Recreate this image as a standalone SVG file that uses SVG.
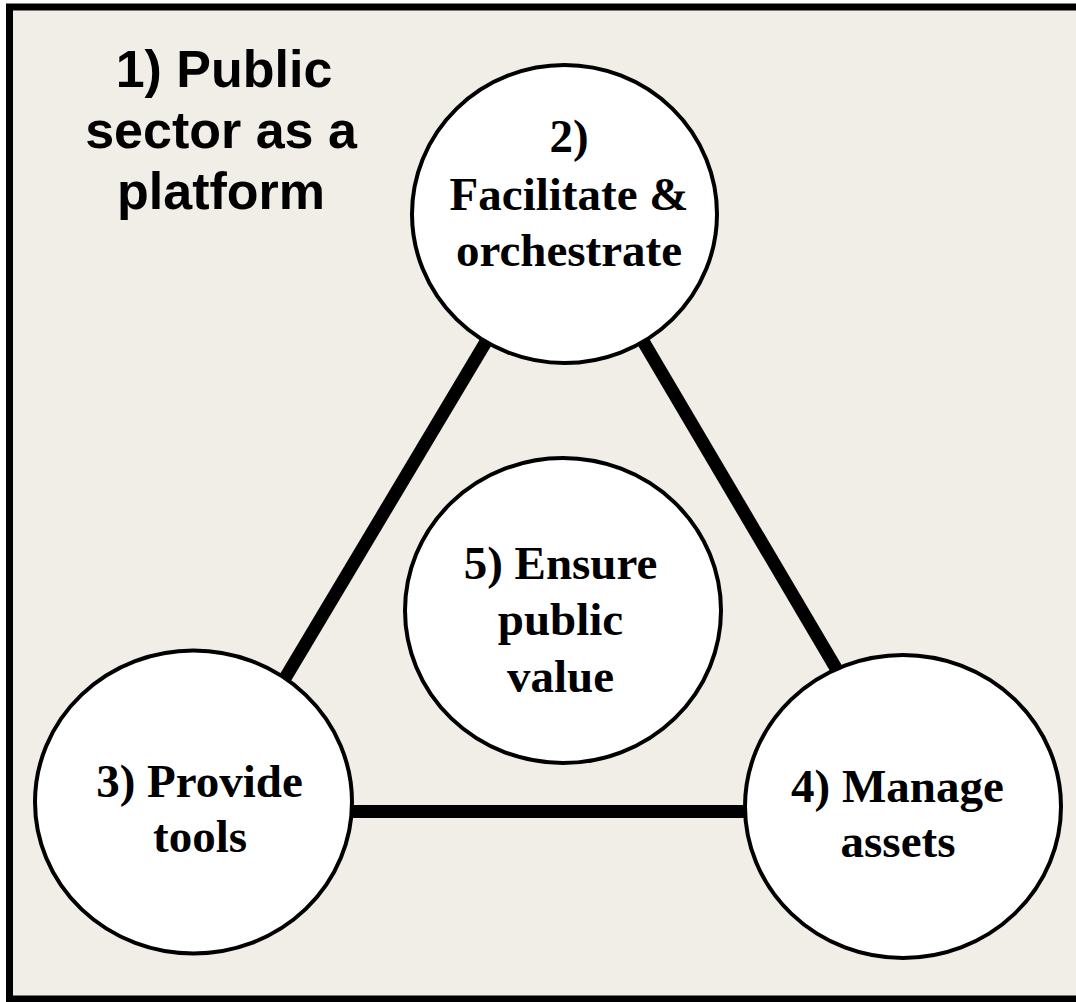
<svg xmlns="http://www.w3.org/2000/svg" width="1076" height="1002" viewBox="0 0 1076 1002">
<style>
.node { fill: #ffffff; stroke: #000000; stroke-width: 4; }
.serif { font-family: "Liberation Serif", "Times New Roman", serif; font-weight: bold; font-size: 47px; fill: #000000; text-anchor: middle; }
.sans { font-family: "Liberation Sans", Arial, sans-serif; font-weight: bold; font-size: 52px; fill: #000000; text-anchor: middle; }
.conn { stroke: #000000; stroke-width: 13; stroke-linecap: butt; fill: none; }
</style>
<rect x="0" y="0" width="1076" height="1002" fill="#ffffff"/>
<rect id="frame" x="9.5" y="7" width="1090" height="992" fill="#F1EEE7" stroke="#000000" stroke-width="7"/>
<g id="title">
  <text class="sans" x="224" y="86.5">1) Public</text>
  <text class="sans" x="221" y="148">sector as a</text>
  <text class="sans" x="221" y="209">platform</text>
</g>
<g id="connectors">
  <line class="conn" x1="488" y1="338.4" x2="283" y2="681.6"/>
  <line class="conn" x1="642" y1="339.4" x2="838" y2="671.6"/>
  <line class="conn" x1="345" y1="811.5" x2="752" y2="811.5"/>
</g>
<g id="node2">
  <ellipse class="node" cx="564.5" cy="214" rx="152.5" ry="149"/>
  <text class="serif" x="569" y="151.5">2)</text>
  <text class="serif" x="569" y="209.5">Facilitate &amp;</text>
  <text class="serif" x="569" y="266">orchestrate</text>
</g>
<g id="node5">
  <ellipse class="node" cx="563" cy="610.5" rx="158" ry="152.5"/>
  <text class="serif" x="560.5" y="579">5) Ensure</text>
  <text class="serif" x="560.5" y="635">public</text>
  <text class="serif" x="560.5" y="692">value</text>
</g>
<g id="node3">
  <ellipse class="node" cx="193.5" cy="802" rx="158.5" ry="151.5"/>
  <text class="serif" x="199.5" y="796.5">3) Provide</text>
  <text class="serif" x="200" y="851.5">tools</text>
</g>
<g id="node4">
  <ellipse class="node" cx="903" cy="806.5" rx="158" ry="151.5"/>
  <text class="serif" x="897.5" y="801.5">4) Manage</text>
  <text class="serif" x="898" y="856.5">assets</text>
</g>
</svg>
